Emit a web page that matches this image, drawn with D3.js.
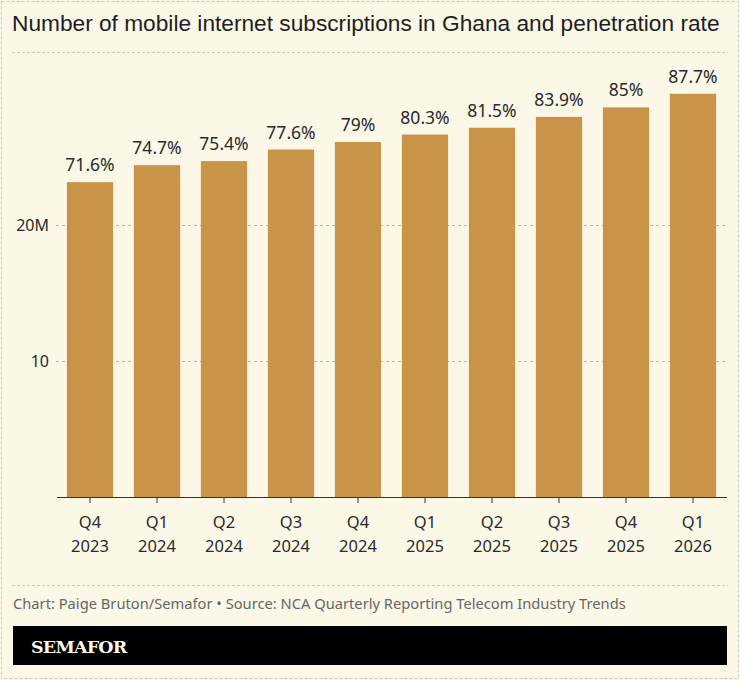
<!DOCTYPE html>
<html>
<head>
<meta charset="utf-8">
<script src="https://cdn.jsdelivr.net/npm/d3@7"></script>
<style>
  body { margin: 0; background: #fbf8e8; }
  svg { display: block; }
</style>
</head>
<body>
<svg id="chart" width="740" height="680"></svg>
<script>
// data
var quarters = ["Q4", "Q1", "Q2", "Q3", "Q4", "Q1", "Q2", "Q3", "Q4", "Q1"];
var years = ["2023", "2024", "2024", "2024", "2024", "2025", "2025", "2025", "2025", "2026"];
var subscriptions = [23.15, 24.4, 24.7, 25.55, 26.1, 26.65, 27.15, 27.95, 28.65, 29.65]; // millions
var penetration = ["71.6%", "74.7%", "75.4%", "77.6%", "79%", "80.3%", "81.5%", "83.9%", "85%", "87.7%"];
var yTicks = [10, 20];

var width = 740, height = 680;
var svg = d3.select("#chart");
var labelFont = "'Noto Sans', 'Open Sans', sans-serif";

// frame
svg.append("rect")
  .attr("x", 1.5).attr("y", 1.5)
  .attr("width", width - 3).attr("height", height - 3)
  .attr("fill", "#fbf8e8")
  .attr("stroke", "#cfcbbb").attr("stroke-dasharray", "3,2");

svg.append("text")
  .attr("x", 12).attr("y", 31)
  .attr("font-family", "'Liberation Sans', Arial, sans-serif")
  .attr("font-size", 22.7)
  .attr("fill", "#1e1e1e")
  .text("Number of mobile internet subscriptions in Ghana and penetration rate");

svg.append("line")
  .attr("x1", 12).attr("x2", 728).attr("y1", 52.5).attr("y2", 52.5)
  .attr("stroke", "#cfcbbb").attr("stroke-dasharray", "3,2");

var keys = d3.range(quarters.length);

var x = d3.scaleBand()
  .domain(keys)
  .range([56.5, 726.5])
  .paddingInner(0.31)
  .paddingOuter(0.155);

var y = d3.scaleLinear()
  .domain([0, 10])
  .range([497, 361]);

// gridlines
svg.append("g")
  .selectAll("line")
  .data(yTicks)
  .join("line")
  .attr("x1", 56).attr("x2", 727)
  .attr("y1", d => Math.round(y(d)) + 0.5)
  .attr("y2", d => Math.round(y(d)) + 0.5)
  .attr("stroke", "#b9b6aa")
  .attr("stroke-dasharray", "3,3");

svg.append("g")
  .selectAll("text")
  .data(yTicks)
  .join("text")
  .attr("x", 49)
  .attr("y", d => y(d))
  .attr("dy", "0.35em")
  .attr("text-anchor", "end")
  .attr("font-family", labelFont)
  .attr("font-size", 16)
  .attr("fill", "#2a2a2a")
  .text(d => d === 20 ? "20M" : d);

// bars
svg.append("g")
  .selectAll("rect")
  .data(keys)
  .join("rect")
  .attr("x", i => x(i))
  .attr("width", x.bandwidth())
  .attr("y", i => y(subscriptions[i]))
  .attr("height", i => y(0) - y(subscriptions[i]))
  .attr("fill", "#c99448");

// penetration labels
svg.append("g")
  .selectAll("text")
  .data(keys)
  .join("text")
  .attr("x", i => x(i) + x.bandwidth() / 2)
  .attr("y", i => y(subscriptions[i]) - 11)
  .attr("text-anchor", "middle")
  .attr("font-family", labelFont)
  .attr("font-size", 17.5)
  .attr("fill", "#2a2a2a")
  .text(i => penetration[i]);

// x axis
var xAxis = svg.append("g")
  .attr("transform", "translate(0," + y(0) + ")")
  .call(d3.axisBottom(x).tickSize(6).tickSizeOuter(0).tickFormat(""));
xAxis.select(".domain").attr("stroke", "#333");
xAxis.selectAll(".tick line").attr("stroke", "#333");

var tickLabels = svg.append("g")
  .selectAll("text")
  .data(keys)
  .join("text")
  .attr("x", i => x(i) + x.bandwidth() / 2)
  .attr("text-anchor", "middle")
  .attr("font-family", labelFont)
  .attr("font-size", 16.5)
  .attr("fill", "#2a2a2a");
tickLabels.append("tspan").attr("y", 528).text(i => quarters[i]);
tickLabels.append("tspan").attr("x", i => x(i) + x.bandwidth() / 2).attr("y", 552).text(i => years[i]);

// footer
svg.append("line")
  .attr("x1", 12).attr("x2", 728).attr("y1", 585.5).attr("y2", 585.5)
  .attr("stroke", "#cfcbbb").attr("stroke-dasharray", "3,2");

svg.append("text")
  .attr("x", 13).attr("y", 609)
  .attr("font-family", labelFont)
  .attr("font-size", 14.7)
  .attr("fill", "#666")
  .text("Chart: Paige Bruton/Semafor \u2022 Source: NCA Quarterly Reporting Telecom Industry Trends");

svg.append("rect")
  .attr("x", 13).attr("y", 626)
  .attr("width", 714).attr("height", 39)
  .attr("fill", "#000");

svg.append("text")
  .attr("x", 31).attr("y", 653)
  .attr("font-family", "'DejaVu Serif', 'Liberation Serif', serif")
  .attr("font-weight", "bold")
  .attr("font-size", 17.5)
  .attr("letter-spacing", -0.8)
  .attr("fill", "#fbf8e8")
  .text("SEMAFOR");
</script>
</body>
</html>
